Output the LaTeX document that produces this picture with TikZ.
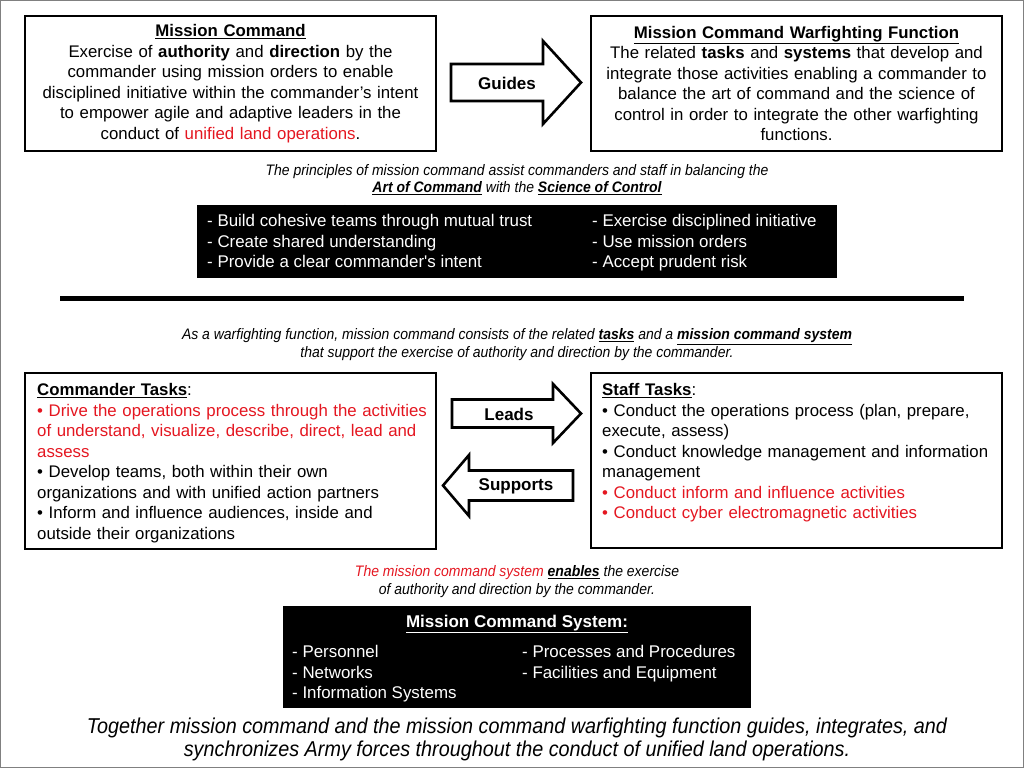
\documentclass[tikz,border=0pt]{standalone}
\usepackage{fontspec}
\setmainfont{Liberation Sans}
\newfontfamily\narrowfont[FakeStretch=0.92]{Liberation Sans}
\definecolor{mcred}{RGB}{228,22,32}
\begin{document}
\begin{tikzpicture}[x=1pt,y=-1pt,
  boxtxt/.style={font=\fontsize{16.8}{20.5}\selectfont},
  topbox/.style={draw, line width=2.6pt, minimum width=411pt, minimum height=135pt, inner sep=0pt},
  taskbox/.style={draw, line width=1.8pt, minimum width=411pt, inner sep=0pt},
  blackbox/.style={fill=black, draw=black, inner sep=0pt},
  whitetxt/.style={text=white, font=\fontsize{16.9}{20.5}\selectfont, align=left, inner sep=0pt},
  arrowshape/.style={draw, line width=2.6pt, fill=white, line join=miter},
  arrowlbl/.style={font=\fontsize{17}{18}\selectfont\bfseries, inner sep=0pt},
  captxt/.style={font=\fontsize{15.2}{17.5}\selectfont\narrowfont\itshape, align=center, inner sep=0pt},
]
\useasboundingbox (0,0) rectangle (1024,768);
\draw[gray, line width=1pt] (0.5,0.5) rectangle (1023.5,767.5);

% top boxes
\node[topbox, boxtxt, align=center, text width=405pt] (mc) at (230.5,83.5) {%
\underline{\textbf{Mission Command}}\\
Exercise of \textbf{authority} and \textbf{direction} by the\\
commander using mission orders to enable\\
disciplined initiative within the commander’s intent\\
to empower agile and adaptive leaders in the\\
conduct of \textcolor{mcred}{unified land operations}.};

\node[topbox, boxtxt, align=center, text width=405pt] (mcwf) at (796.5,83.5) {%
\underline{\textbf{Mission Command Warfighting Function}}\\
The related \textbf{tasks} and \textbf{systems} that develop and\\
integrate those activities enabling a commander to\\
balance the art of command and the science of\\
control in order to integrate the other warfighting\\
functions.};

% guides arrow
\draw[arrowshape] (451,64) -- (543,64) -- (543,41) -- (581,82.5) -- (543,124) -- (543,101) -- (451,101) -- cycle;
\node[arrowlbl] (guides) at (507,83) {Guides};

% principles caption
\node[captxt] (cap1) at (517,179.5) {The principles of mission command assist commanders and staff in balancing the\\
\textbf{\underline{Art of Command}} with the \textbf{\underline{Science of Control}}};

% principles black box
\node[blackbox, minimum width=639pt, minimum height=72pt] (princ) at (516.5,241) {};
\node[whitetxt, anchor=north west] (pleft) at (207,212) {\strut- Build cohesive teams through mutual trust\\
- Create shared understanding\\
- Provide a clear commander\textquotesingle s intent};
\node[whitetxt, anchor=north west] (pright) at (592,212) {\strut- Exercise disciplined initiative\\
- Use mission orders\\
- Accept prudent risk};

% separator
\coordinate (sepL) at (60,298.5);
\coordinate (sepR) at (964,298.5);
\draw[line width=4.5pt] (sepL) -- (sepR);

% second caption
\node[captxt] (cap2) at (517,344.5) {As a warfighting function, mission command consists of the related \textbf{\underline{tasks}} and a \textbf{\underline{mission command system}}\\
that support the exercise of authority and direction by the commander.};

% commander tasks
\node[taskbox, minimum height=176pt] (cmdbox) at (230.5,461) {};
\node[boxtxt, anchor=north west, align=left, inner sep=0pt, text width=398pt] (cmdtxt) at (37,381) {%
\strut\underline{\textbf{Commander Tasks}}:\\
\textcolor{mcred}{• Drive the operations process through the activities}\\
\textcolor{mcred}{of understand, visualize, describe, direct, lead and}\\
\textcolor{mcred}{assess}\\
• Develop teams, both within their own\\
organizations and with unified action partners\\
• Inform and influence audiences, inside and\\
outside their organizations};

% staff tasks
\node[taskbox, minimum height=175pt] (stfbox) at (796.5,460.5) {};
\node[boxtxt, anchor=north west, align=left, inner sep=0pt, text width=398pt] (stftxt) at (602,381) {%
\strut\underline{\textbf{Staff Tasks}}:\\
• Conduct the operations process (plan, prepare,\\
execute, assess)\\
• Conduct knowledge management and information\\
management\\
\textcolor{mcred}{• Conduct inform and influence activities}\\
\textcolor{mcred}{• Conduct cyber electromagnetic activities}};

% leads arrow
\draw[arrowshape] (452,399.5) -- (553,399.5) -- (553,384) -- (581,413.5) -- (553,443) -- (553,427.5) -- (452,427.5) -- cycle;
\node[arrowlbl] (leads) at (509,414) {Leads};

% supports arrow
\draw[arrowshape] (573,470.5) -- (469,470.5) -- (469,455) -- (443,485.5) -- (469,516) -- (469,500.5) -- (573,500.5) -- cycle;
\node[arrowlbl] (supports) at (516,486) {Supports};

% third caption
\node[captxt] (cap3) at (517,581.5) {\textcolor{mcred}{The mission command system} \textbf{\underline{enables}} the exercise\\
of authority and direction by the commander.};

% mission command system box
\node[blackbox, minimum width=467pt, minimum height=101pt] (mcs) at (516.5,656.5) {};
\node[text=white, font=\fontsize{17}{18}\selectfont\bfseries, inner sep=0pt] (mcstitle) at (517,624) {\underline{Mission Command System:}};
\node[whitetxt, anchor=north west] (mcsleft) at (292,643) {\strut- Personnel\\
- Networks\\
- Information Systems};
\node[whitetxt, anchor=north west] (mcsright) at (522,643) {\strut- Processes and Procedures\\
- Facilities and Equipment};

% bottom statement
\node[font=\fontsize{21.5}{23}\selectfont\narrowfont\itshape, align=center, inner sep=0pt] (summary) at (517,739.5) {Together mission command and the mission command warfighting function guides, integrates, and\\
synchronizes Army forces throughout the conduct of unified land operations.};
\end{tikzpicture}
\end{document}
